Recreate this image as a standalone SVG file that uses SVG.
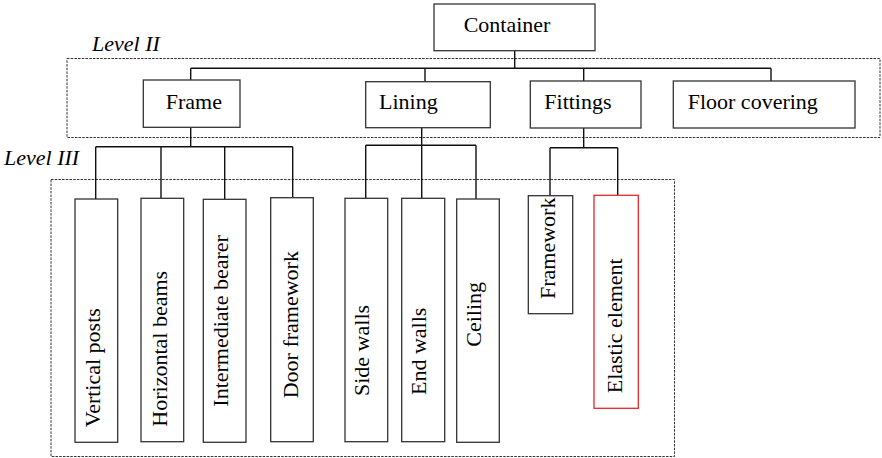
<svg xmlns="http://www.w3.org/2000/svg" width="882" height="458" viewBox="0 0 882 458">
<style>
.box{fill:#fff;stroke:#333;stroke-width:1.3}
.red{fill:#fff;stroke:#e8262b;stroke-width:1.3}
.dash{fill:none;stroke:#333;stroke-width:1;stroke-dasharray:2.5,1.2}
.t{font-family:"Liberation Serif","Times New Roman",serif;font-size:22px;fill:#000}
.lv{font-family:"Liberation Serif","Times New Roman",serif;font-size:22px;font-style:italic;fill:#000}
#connectors path{fill:none;stroke:#111;stroke-width:1.4}
</style>
<rect width="882" height="458" fill="#fff"/>
<g id="groups">
<rect class="dash" x="67" y="58.5" width="813" height="79"/>
<rect class="dash" x="51" y="179.5" width="623.5" height="277"/>
<text class="lv" x="92" y="51">Level II</text>
<text class="lv" x="4" y="165">Level III</text>
</g>
<g id="connectors">
<path d="M514.7 50.7V68.3M190.7 68.3H771M190.7 68.3V80M425 68.3V81.7M583.7 68.3V81M771 68.3V81"/>
<path d="M190.7 127.3V146.7M95.7 146.7H292.7M95.7 146.7V199M161 146.7V198.3M224.7 146.7V199.3M292.7 146.7V197.7"/>
<path d="M421.7 127.7V145.3M365.7 145.3H476M365.7 145.3V198.3M421.7 145.3V198.3M476 145.3V199"/>
<path d="M583.7 128V147.7M550 147.7H617.7M550 147.7V195.7M617.7 147.7V195.3"/>
</g>
<g id="container"><rect class="box" x="434" y="4" width="161" height="46.7"/><text class="t" x="463.7" y="32">Container</text></g>
<g id="frame"><rect class="box" x="143.3" y="80" width="96.7" height="47.3"/><text class="t" x="165.7" y="109">Frame</text></g>
<g id="lining"><rect class="box" x="365.7" y="81.7" width="124.6" height="46"/><text class="t" x="379" y="109">Lining</text></g>
<g id="fittings"><rect class="box" x="530.3" y="81" width="110.7" height="47"/><text class="t" x="544.3" y="109">Fittings</text></g>
<g id="floor-covering"><rect class="box" x="673.3" y="81" width="181.7" height="47"/><text class="t" x="687.7" y="109">Floor covering</text></g>
<g id="vertical-posts"><rect class="box" x="75" y="199" width="42.7" height="243.3"/><text class="t" transform="translate(100,427.3) rotate(-90)">Vertical posts</text></g>
<g id="horizontal-beams"><rect class="box" x="141" y="198.3" width="42.7" height="243.4"/><text class="t" transform="translate(166.5,426.7) rotate(-90)">Horizontal beams</text></g>
<g id="intermediate-bearer"><rect class="box" x="203.3" y="199.3" width="42.7" height="243"/><text class="t" transform="translate(228,406.7) rotate(-90)">Intermediate bearer</text></g>
<g id="door-framework"><rect class="box" x="270.7" y="197.7" width="42.6" height="244"/><text class="t" transform="translate(298,398.3) rotate(-90)">Door framework</text></g>
<g id="side-walls"><rect class="box" x="345" y="198.3" width="42.7" height="243.4"/><text class="t" transform="translate(368.5,396) rotate(-90)">Side walls</text></g>
<g id="end-walls"><rect class="box" x="401.7" y="198.3" width="43" height="243.4"/><text class="t" transform="translate(426.3,395) rotate(-90)">End walls</text></g>
<g id="ceiling"><rect class="box" x="456.7" y="199" width="42.6" height="243.3"/><text class="t" transform="translate(481.3,346.7) rotate(-90)">Ceiling</text></g>
<g id="framework"><rect class="box" x="528.3" y="195.7" width="44.4" height="118"/><text class="t" transform="translate(555.3,299) rotate(-90)">Framework</text></g>
<g id="elastic-element"><rect class="red" x="594" y="195.3" width="44.3" height="213"/><text class="t" transform="translate(622,393.3) rotate(-90)">Elastic element</text></g>
</svg>
